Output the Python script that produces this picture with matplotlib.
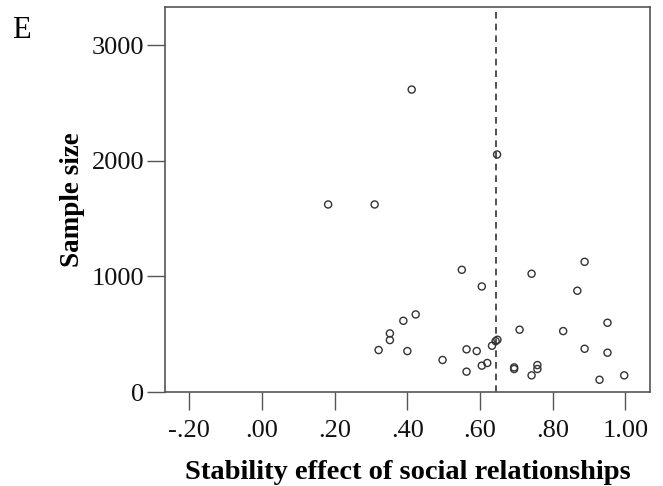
import matplotlib
matplotlib.use('Agg')
import matplotlib.pyplot as plt

# effect sizes (x) and sample sizes (y)
effect = [0.412, 0.647, 0.182, 0.310, 0.321, 0.352, 0.352, 0.389, 0.423, 0.400,
          0.497, 0.550, 0.605, 0.563, 0.591, 0.563, 0.605, 0.620, 0.633, 0.643,
          0.648, 0.709, 0.694, 0.694, 0.742, 0.742, 0.758, 0.758, 0.829, 0.868,
          0.888, 0.888, 0.951, 0.951, 0.929, 0.997]
sample = [2616, 2054, 1622, 1622, 363, 507, 449, 616, 671, 354,
          277, 1057, 913, 369, 354, 176, 228, 251, 400, 440,
          452, 539, 213, 199, 1023, 144, 233, 199, 527, 876,
          1126, 374, 599, 340, 106, 144]
mean_effect = 0.645

xticks = [-0.2, 0.0, 0.2, 0.4, 0.6, 0.8, 1.0]
xticklabels = ['-.20', '.00', '.20', '.40', '.60', '.80', '1.00']
yticks = [0, 1000, 2000, 3000]
yticklabels = ['0', '1000', '2000', '3000']

plt.rcParams['font.family'] = ['Liberation Serif', 'DejaVu Serif']

fig = plt.figure(figsize=(6.63, 4.86), dpi=100)
ax = fig.add_axes([0.2489, 0.1934, 0.7315, 0.7922])

ax.scatter(effect, sample, s=26, facecolors='none', edgecolors='#333333', linewidths=1.0, zorder=3)
ax.axvline(mean_effect, color='#333333', linestyle=(0, (4, 3)), linewidth=1.2, zorder=2)

ax.set_xlim(-0.267, 1.068)
ax.set_ylim(0, 3330)
ax.set_xticks(xticks)
ax.set_xticklabels(xticklabels)
ax.set_yticks(yticks)
ax.set_yticklabels(yticklabels)
ax.tick_params(direction='out', length=13, width=1, color='#555555', labelsize=19, labelcolor='#111111')
ax.tick_params(axis='x', pad=7)
ax.tick_params(axis='y', pad=2)

for sp in ax.spines.values():
    sp.set_color('#555555')
    sp.set_linewidth(1.2)

ax.set_xlabel('Stability effect of social relationships', fontsize=20.5, fontweight='bold', labelpad=13)
ax.set_ylabel('Sample size', fontsize=19.5, fontweight='bold', labelpad=5)

fig.text(0.018, 0.937, 'E', fontsize=22, ha='left', va='center')

fig.savefig('out.png', dpi=100)
